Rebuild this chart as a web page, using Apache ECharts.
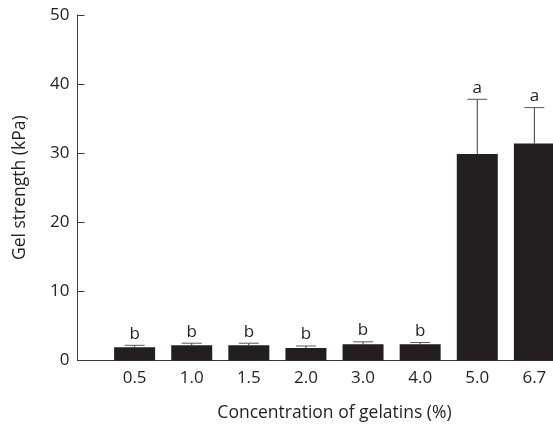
<!DOCTYPE html>
<html>
<head>
<meta charset="utf-8">
<script src="https://cdn.jsdelivr.net/npm/echarts@6/dist/echarts.min.js"></script>
<style>
  html, body { margin: 0; padding: 0; background: #fff; }
  #chart { width: 553px; height: 424px; }
</style>
</head>
<body>
<div id="chart"></div>
<script>
// Gelatin concentrations (%) on the x axis
const categories = ['0.5', '1.0', '1.5', '2.0', '3.0', '4.0', '5.0', '6.7'];
// Mean gel strength (kPa)
const gelStrength = [1.9, 2.2, 2.2, 1.8, 2.35, 2.35, 29.9, 31.4];
// Upper error (SD, kPa)
const errorUpper = [0.3, 0.3, 0.3, 0.3, 0.35, 0.25, 7.9, 5.2];
// Significance letters shown above each bar
const groupLetters = ['b', 'b', 'b', 'b', 'b', 'b', 'a', 'a'];
// Y-axis scale
const yTicks = [0, 10, 20, 30, 40, 50];

const INK = '#231f20';
const FONT = 'Open Sans';
const FS = 17;

// One empty slot on each side keeps the first bar one step off the y axis
const axisCategories = [''].concat(categories, ['']);
const barData = [null].concat(gelStrength, [null]);
const errData = categories.map((c, i) => [i + 1, gelStrength[i], errorUpper[i], groupLetters[i]]);

const chart = echarts.init(document.getElementById('chart'), null, { renderer: 'canvas' });

chart.setOption({
  animation: false,
  backgroundColor: '#ffffff',
  grid: { left: 77.5, top: 15, width: 514, bottom: 63.5, containLabel: false, outerBoundsMode: 'none' },
  xAxis: {
    type: 'category',
    data: axisCategories,
    boundaryGap: false,
    axisLine: { lineStyle: { color: '#3d3a3b', width: 1 } },
    axisTick: { show: false },
    axisLabel: { color: INK, fontFamily: FONT, fontSize: FS, margin: 9, interval: 0 },
    name: 'Concentration of gelatins (%)',
    nameLocation: 'middle',
    nameGap: 44,
    nameTextStyle: { color: INK, fontFamily: FONT, fontSize: 17.5 }
  },
  yAxis: {
    type: 'value',
    min: yTicks[0],
    max: yTicks[yTicks.length - 1],
    interval: yTicks[1] - yTicks[0],
    splitLine: { show: false },
    axisLine: { show: true, lineStyle: { color: '#3d3a3b', width: 1 } },
    axisTick: { show: true, inside: true, length: 7, lineStyle: { color: '#3d3a3b' } },
    axisLabel: { color: INK, fontFamily: FONT, fontSize: FS, margin: 8 },
    name: 'Gel strength (kPa)',
    nameLocation: 'middle',
    nameGap: 48,
    nameTextStyle: { color: INK, fontFamily: FONT, fontSize: 17.5 }
  },
  series: [
    {
      type: 'bar',
      data: barData,
      barWidth: 41,
      itemStyle: { color: INK },
      z: 2
    },
    {
      type: 'custom',
      data: errData,
      z: 3,
      renderItem: function (params, api) {
        const idx = api.value(0);
        const mean = api.value(1);
        const err = api.value(2);
        const letter = errData[params.dataIndex][3];
        const base = api.coord([idx, mean]);
        const top = api.coord([idx, mean + err]);
        const half = 10;
        return {
          type: 'group',
          children: [
            {
              type: 'line',
              shape: { x1: base[0], y1: base[1], x2: top[0], y2: top[1] },
              style: { stroke: '#3d3a3b', lineWidth: 1 }
            },
            {
              type: 'line',
              shape: { x1: top[0] - half, y1: top[1], x2: top[0] + half, y2: top[1] },
              style: { stroke: '#5a5758', lineWidth: 1 }
            },
            {
              type: 'text',
              style: {
                text: letter,
                x: top[0],
                y: top[1] - 3,
                align: 'center',
                verticalAlign: 'bottom',
                fill: INK,
                font: FS + 'px "' + FONT + '"'
              }
            }
          ]
        };
      }
    }
  ]
});
</script>
</body>
</html>
